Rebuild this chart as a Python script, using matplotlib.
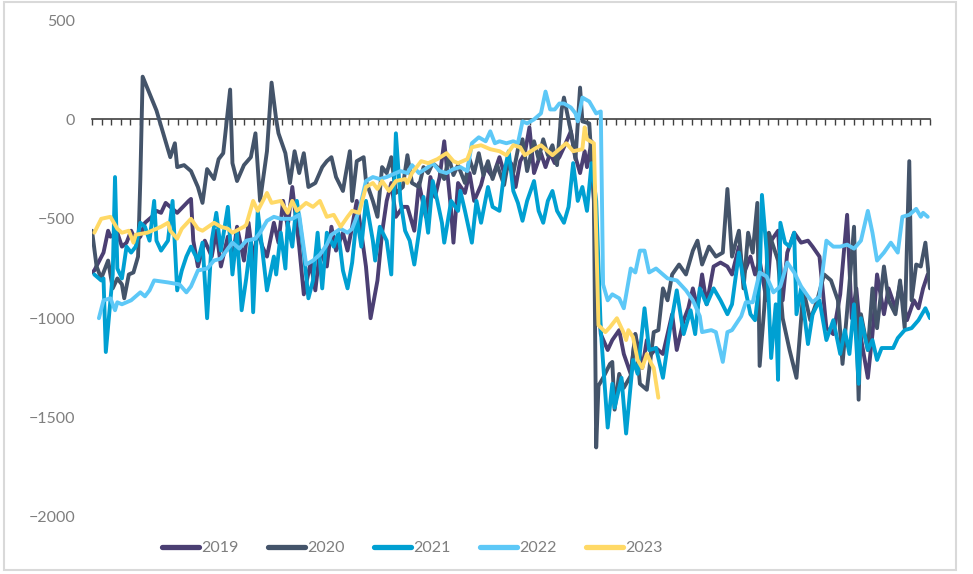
import matplotlib
matplotlib.use("Agg")
import matplotlib.pyplot as plt
import numpy as np
from matplotlib.patches import Rectangle

plt.rcParams['font.family'] = ['Lato', 'DejaVu Sans']

years = ["2019", "2020", "2021", "2022", "2023"]
colors = ["#4B3F73", "#44546A", "#00A0D2", "#5DC8F7", "#FFD966"]

# ---- 2019 ----
d2019_day = [1,2,6,8,9,12,14,16,18,20,22,24,27,29,31,33,38,43,44,45,47,50,53,55,57,60,62,64,67,69,71,73,75,77,80,82,84,86,88,91,93,96,98,100,103,105,107,110,112,114,116,118,120,122,125,127,129,131,133,136,138,141,143,146,148,150,152,154,157,158,160,163,165,167,170,172,175,178,180,183,185,187,189,191,193,196,198,200,202,204,206,209,211,213,215,216,218,
             220,222,225,227,230,232,235,237,240,242,244,246,249,251,253,255,258,260,262,264,266,268,271,274,277,279,282,284,287,289,291,294,296,299,301,303,306,309,312,314,317,320,323,326,329,331,333,335,338,340,342,345,347,350,352,355,358,360,362,364]
d2019_val = [-770,-760,-670,-560,-590,-570,-640,-620,-560,-610,-590,-520,-490,-460,-470,-420,-470,-410,-400,-610,-740,-610,-690,-560,-740,-590,-710,-540,-710,-520,-710,-560,-640,-690,-520,-620,-410,-540,-340,-640,-880,-720,-860,-660,-740,-540,-660,-570,-660,-540,-410,-570,-740,-1000,-810,-570,-410,-320,-490,-440,-440,-560,-320,-490,-290,-390,-290,-110,-460,-620,-320,-370,-270,-410,-330,-240,-290,-190,-270,-220,-340,-210,-170,-40,-270,-170,-240,-170,-220,-190,-140,-60,-190,-270,-160,-240,-110,
             -700,-1080,-1160,-1110,-1060,-1180,-1280,-1080,-1250,-1110,-1180,-1150,-1180,-1080,-980,-1160,-1010,-950,-850,-950,-780,-930,-740,-720,-740,-780,-640,-780,-690,-780,-710,-910,-610,-560,-910,-670,-570,-620,-610,-640,-690,-1050,-1080,-880,-480,-1000,-850,-1100,-1300,-1080,-780,-980,-850,-950,-830,-1010,-910,-950,-850,-780]

# ---- 2020 ----
d2020_day = [1,3,5,8,10,12,14,15,17,19,21,22,23,29,35,37,38,41,44,47,49,51,54,56,58,61,62,64,67,70,72,74,77,79,81,82,85,87,89,91,93,95,98,101,103,105,107,110,111,113,114,116,119,120,123,125,127,129,131,133,136,138,140,143,145,147,149,151,154,156,158,160,163,165,167,169,171,173,175,177,180,182,184,186,188,190,193,195,197,199,201,203,205,206,209,211,213,214,217,219,
             220,221,223,226,227,228,230,232,235,237,239,242,245,247,249,251,253,256,259,262,264,266,269,272,275,277,279,282,284,286,288,290,291,293,295,299,301,304,307,310,313,316,319,322,325,327,330,332,334,335,338,340,342,345,347,350,352,354,356,357,359,361,363,365]
d2020_val = [-560,-740,-800,-710,-850,-800,-830,-900,-780,-770,-690,-300,215,45,-190,-120,-240,-230,-260,-340,-420,-250,-300,-200,-170,150,-220,-310,-230,-190,-70,-410,-160,185,0,-70,-170,-320,-160,-270,-170,-340,-320,-240,-210,-190,-290,-360,-290,-160,-410,-210,-190,-310,-410,-490,-240,-270,-190,-370,-340,-180,-320,-340,-240,-270,-220,-240,-300,-190,-280,-230,-320,-200,-270,-170,-280,-210,-300,-230,-330,-200,-270,-150,-100,-260,-110,-200,-100,-180,-130,-230,50,110,-60,-200,160,-10,-20,-400,
             -1650,-1340,-1300,-1230,-1220,-1460,-1280,-1350,-1290,-1080,-1330,-1360,-1070,-1060,-850,-910,-780,-730,-780,-660,-610,-730,-640,-690,-670,-350,-690,-560,-850,-570,-670,-420,-1240,-950,-570,-710,-1000,-1160,-1300,-860,-1010,-910,-780,-810,-910,-1230,-830,-540,-1410,-980,-1160,-850,-1050,-740,-910,-980,-810,-1050,-210,-910,-730,-740,-620,-850]

# ---- 2021 ----
d2021_day = [2,5,6,7,10,11,12,14,16,18,20,22,24,26,28,29,31,34,36,38,40,42,44,47,49,51,53,55,57,60,62,64,66,68,70,71,73,75,77,80,81,83,85,86,88,90,93,95,97,99,101,103,106,108,110,112,114,116,118,120,123,124,126,129,131,133,135,137,139,141,143,145,147,149,151,153,154,157,160,161,163,166,168,170,173,175,178,180,182,184,186,188,190,193,195,197,199,201,203,206,208,210,212,214,216,218,220,
             222,225,227,228,231,233,236,238,241,243,246,249,252,255,258,261,263,265,268,271,274,277,279,282,284,287,289,291,292,294,296,298,299,300,302,304,306,307,309,312,314,317,320,323,326,328,330,332,334,335,338,340,342,344,347,349,351,354,357,360,363,365]
d2021_val = [-780,-810,-800,-1170,-780,-290,-750,-800,-640,-670,-640,-520,-540,-610,-410,-610,-660,-610,-410,-860,-760,-690,-640,-710,-620,-1000,-610,-470,-660,-440,-780,-570,-960,-800,-610,-970,-460,-660,-860,-690,-780,-570,-750,-520,-640,-410,-670,-900,-810,-570,-850,-570,-640,-570,-760,-850,-720,-490,-640,-410,-610,-710,-540,-610,-780,-70,-410,-560,-610,-730,-570,-390,-570,-310,-410,-520,-620,-410,-460,-360,-460,-620,-410,-520,-340,-440,-460,-270,-160,-360,-420,-510,-410,-310,-460,-520,-410,-360,-460,-520,-440,-220,-410,-340,-460,-220,-410,
             -1060,-1550,-1330,-1450,-1300,-1580,-1210,-1280,-950,-1160,-1150,-1300,-1060,-860,-1080,-960,-1080,-850,-930,-850,-910,-980,-930,-670,-810,-980,-1010,-810,-380,-660,-1200,-930,-1310,-520,-620,-640,-570,-980,-850,-1130,-980,-910,-1110,-1010,-1180,-1060,-1180,-930,-1330,-1000,-1160,-1110,-1210,-1150,-1150,-1150,-1100,-1060,-1050,-1010,-950,-1000]

# ---- 2022 ----
d2022_day = [4,6,9,11,12,14,18,20,22,24,26,28,34,39,42,44,47,51,54,57,60,62,65,68,72,74,77,80,83,86,88,91,94,97,100,103,105,109,112,114,117,120,123,126,129,133,135,138,140,143,147,149,152,155,158,161,164,166,169,172,174,176,178,181,184,186,188,190,193,196,198,200,202,204,206,209,211,212,214,217,220,222,
             223,225,227,230,232,235,237,239,241,243,246,251,255,259,262,265,266,270,272,275,277,279,283,285,288,291,294,297,300,303,306,309,312,314,317,320,323,326,329,332,335,338,340,342,345,348,351,353,356,359,361,362,364]
d2022_val = [-1000,-910,-900,-960,-920,-930,-910,-890,-870,-890,-860,-810,-820,-830,-870,-840,-760,-750,-710,-700,-650,-620,-650,-610,-600,-570,-510,-490,-500,-500,-500,-480,-730,-710,-680,-630,-580,-550,-570,-550,-460,-310,-290,-300,-290,-270,-260,-270,-230,-270,-240,-220,-260,-270,-250,-240,-260,-120,-90,-110,-60,-120,-110,-120,-110,-120,-10,-20,0,30,140,50,50,80,80,60,30,-10,110,90,30,40,
             -830,-910,-880,-900,-950,-750,-770,-660,-660,-770,-750,-800,-810,-860,-910,-990,-1070,-1060,-1070,-1220,-1070,-1060,-990,-920,-920,-770,-790,-870,-840,-720,-770,-840,-890,-920,-890,-610,-640,-640,-630,-650,-610,-460,-570,-710,-670,-620,-670,-490,-480,-450,-490,-470,-490]

# ---- 2023 ----
d2023_day = [2,5,9,12,14,17,19,20,25,31,34,35,38,40,44,47,49,54,57,60,62,67,68,71,73,77,79,83,86,88,90,94,97,100,103,106,109,112,114,117,120,123,125,127,130,133,137,138,140,144,147,151,155,158,160,164,166,170,174,178,181,184,187,189,193,196,199,201,204,207,210,214,215,216,219,
             221,224,226,229,232,233,234,236,238,240,242,244,245,247]
d2023_val = [-570,-500,-490,-550,-570,-560,-620,-580,-570,-540,-520,-560,-600,-550,-500,-550,-560,-520,-540,-550,-570,-540,-530,-410,-460,-370,-420,-410,-470,-410,-460,-420,-440,-410,-490,-480,-540,-490,-460,-470,-340,-320,-350,-310,-360,-310,-300,-320,-270,-210,-220,-200,-170,-210,-220,-200,-140,-130,-150,-160,-180,-130,-140,-180,-150,-130,-160,-180,-150,-120,-160,-150,-40,-100,-120,
             -1035,-1070,-1045,-1000,-1075,-1110,-1060,-1095,-1210,-1250,-1180,-1230,-1250,-1400]

y_ticks = [500, 0, -500, -1000, -1500, -2000]
y_labels = ['500', '0', '\u2212500', '\u22121000', '\u22121500', '\u22122000']

series = [(d2019_day, d2019_val), (d2020_day, d2020_val), (d2021_day, d2021_val),
          (d2022_day, d2022_val), (d2023_day, d2023_val)]

W, H = 973, 574
fig = plt.figure(figsize=(W / 100, H / 100), dpi=100)
ax = fig.add_axes([92 / W, (H - 517) / H, (930 - 92) / W, (517 - 20) / H])

handles = []
for (dx, dy), name, c in zip(series, years, colors):
    ln, = ax.plot(dx, dy, color=c, lw=2.8, solid_joinstyle='round', solid_capstyle='round', label=name)
    handles.append(ln)

ax.set_xlim(1, 365)
ax.set_ylim(-2000, 500)
for s in ['top', 'right', 'left']:
    ax.spines[s].set_visible(False)
ax.spines['bottom'].set_position(('data', 0))
ax.spines['bottom'].set_color('#404040')
ax.spines['bottom'].set_linewidth(1.2)
ax.spines['bottom'].set_zorder(0.5)
ax.set_xticks(np.linspace(1, 365, 89))
ax.tick_params(axis='x', direction='out', length=4, width=1, color='#404040', labelbottom=False)
ax.set_yticks(y_ticks)
ax.set_yticklabels(y_labels)
ax.tick_params(axis='y', length=0, pad=12, labelsize=11.5, labelcolor='#7F7F7F')

leg = fig.legend(handles=handles, labels=years, loc='center', ncol=5,
                 bbox_to_anchor=(412.5 / W, (H - 548) / H), frameon=False,
                 fontsize=11.5, handlelength=2.3, handletextpad=0.15, columnspacing=1.85,
                 borderpad=0)
for t in leg.get_texts():
    t.set_color('#7F7F7F')
for l in leg.get_lines():
    l.set_linewidth(3.8)
    l.set_solid_capstyle('round')

fig.patches.append(Rectangle((4 / W, (H - 570) / H), (956 - 4) / W, (570 - 2) / H,
                             transform=fig.transFigure, fill=False, edgecolor='#D9D9D9', lw=1.5))

fig.savefig('out.png', dpi=100)
